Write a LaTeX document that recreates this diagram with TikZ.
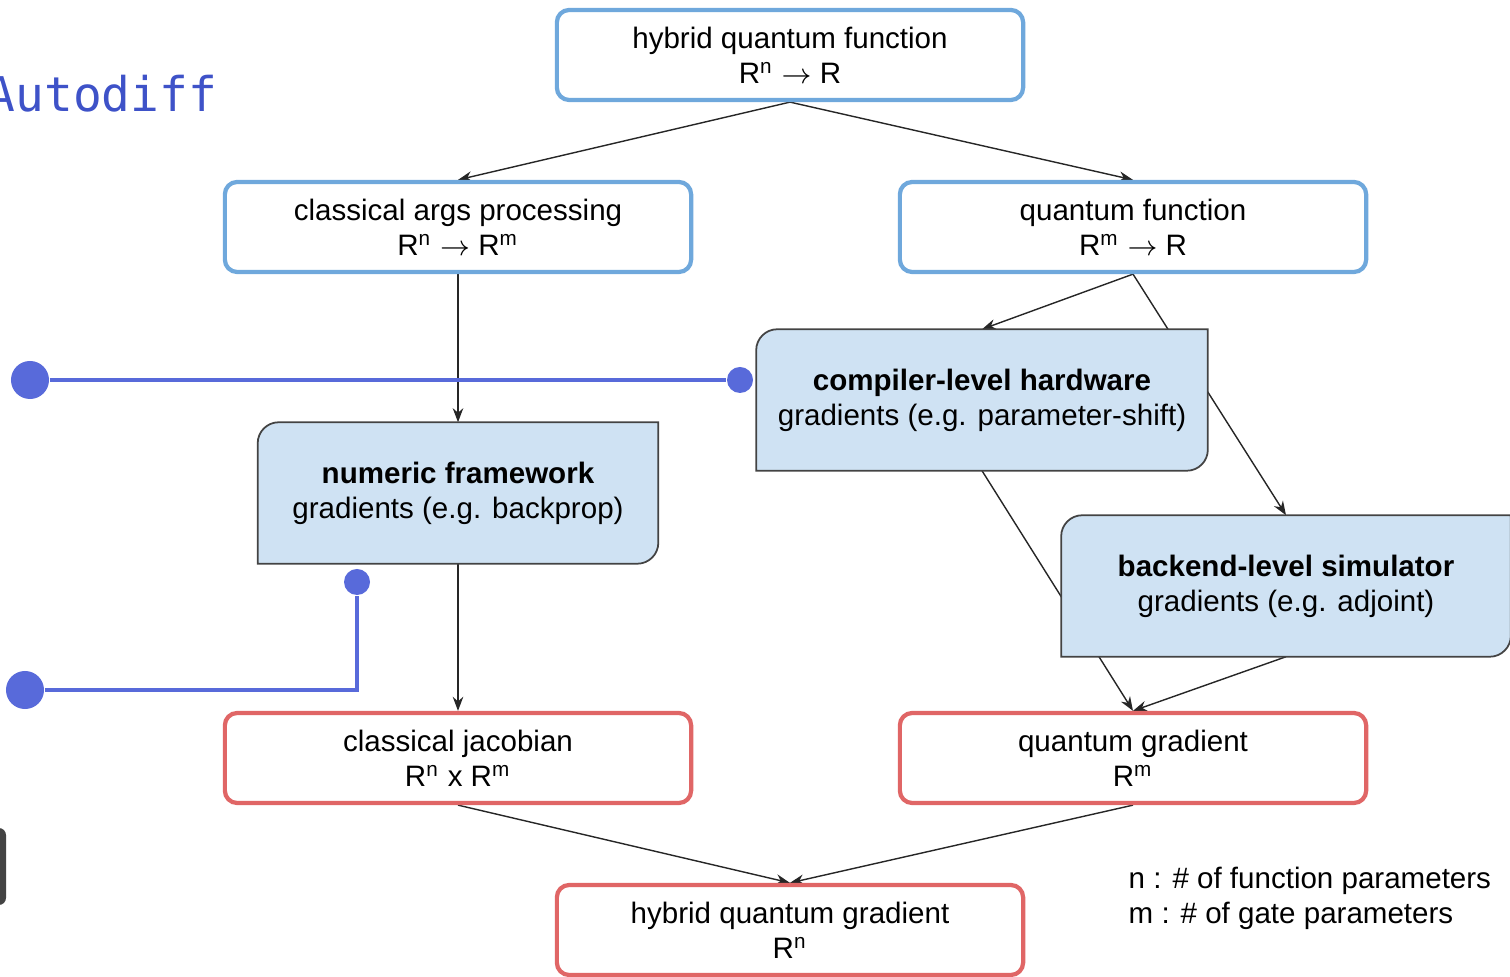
\documentclass[tikz,border=0pt]{standalone}
\usepackage{fontspec}
\setmainfont{Liberation Sans}
\newfontfamily\codefont{DejaVu Sans Mono}
\usetikzlibrary{arrows.meta}

\pgfdeclarelayer{background}
\pgfdeclarelayer{middle}
\pgfsetlayers{background,middle,main}

\definecolor{funcedge}{HTML}{6FA8DC}
\definecolor{gradedge}{HTML}{E06666}
\definecolor{methodfill}{HTML}{CFE2F3}
\definecolor{methodedge}{HTML}{434343}
\definecolor{linkblue}{RGB}{88,106,218}
\definecolor{titleblue}{RGB}{62,82,200}

\tikzset{
	box/.style={align=center, minimum width=4.66cm, minimum height=0.9cm, inner sep=0pt, font=\fontsize{8.4}{10}\selectfont},
	funcbox/.style={box, draw=funcedge, line width=1.2pt, rounded corners=3.5pt, fill=white},
	gradbox/.style={box, draw=gradedge, line width=1.2pt, rounded corners=3.5pt, fill=white},
	methodbox/.style={box, minimum height=1.4cm},
	methodshape/.style={fill=methodfill, draw=methodedge, line width=0.5pt},
	flow/.style={-{Stealth[length=4pt,width=3pt]}, line width=0.4pt, draw=black!85},
	link/.style={draw=linkblue, line width=1.4pt},
	bigdot/.style={circle, fill=linkblue, inner sep=0pt, minimum size=0.38cm},
	smalldot/.style={circle, fill=linkblue, inner sep=0pt, minimum size=0.26cm}
}

% filled box with two rounded corners (top left, bottom right)
\newcommand{\cornercut}[1]{%
	\path[methodshape] (#1.south west) -- ([yshift=-6pt]#1.north west)
		to[out=90,in=180] ([xshift=6pt]#1.north west) -- (#1.north east)
		-- ([yshift=6pt]#1.south east) to[out=-90,in=0] ([xshift=-6pt]#1.south east) -- cycle;}

\begin{document}
\begin{tikzpicture}[x=0.01cm, y=0.01cm]
	\useasboundingbox (0,0) rectangle (1510,-977);

	\node[anchor=base west, inner sep=0pt, text=titleblue, font=\codefont\fontsize{13.6}{16}\selectfont] (title) at (-14,-112) {Autodiff};

	% functions
	\node[funcbox] (hqf) at (790,-55) {hybrid quantum function\\R\textsuperscript{n} $\rightarrow$ R};
	\node[funcbox] (cap) at (458,-227) {classical args processing\\R\textsuperscript{n} $\rightarrow$ R\textsuperscript{m}};
	\node[funcbox] (qf) at (1133,-227) {quantum function\\R\textsuperscript{m} $\rightarrow$ R};

	% gradient methods
	\node[methodbox, minimum width=4.5cm] (hw) at (982,-400) {\textbf{compiler-level hardware}\\gradients (e.g. parameter-shift)};
	\node[methodbox, minimum width=3.99cm] (nf) at (458,-493) {\textbf{numeric framework}\\gradients (e.g. backprop)};
	\node[methodbox, minimum width=4.48cm] (sim) at (1286,-586) {\textbf{backend-level simulator}\\gradients (e.g. adjoint)};

	% results
	\node[gradbox] (cj) at (458,-758) {classical jacobian\\R\textsuperscript{n} x R\textsuperscript{m}};
	\node[gradbox] (qg) at (1133,-758) {quantum gradient\\R\textsuperscript{m}};
	\node[gradbox] (hqg) at (790,-930) {hybrid quantum gradient\\R\textsuperscript{n}};

	\node[anchor=west, align=left, inner sep=0pt, font=\fontsize{8.4}{10}\selectfont] (notes) at (1128,-898) {n : \# of function parameters\\m : \# of gate parameters};

	\begin{pgfonlayer}{middle}
		\cornercut{hw}
		\cornercut{nf}
		\cornercut{sim}
	\end{pgfonlayer}

	\begin{pgfonlayer}{background}
		\draw[flow] (hqf.south) -- (cap.north);
		\draw[flow] (hqf.south) -- (qf.north);
		\draw[flow] (cap.south) -- (nf.north);
		\draw[flow] (qf.south) -- (hw.north);
		\draw[flow] (qf.south) -- (sim.north);
		\draw[flow] (nf.south) -- (cj.north);
		\draw[flow] (hw.south) -- (qg.north);
		\draw[flow] (sim.south) -- (qg.north);
		\draw[flow] (cj.south) -- (hqg.north);
		\draw[flow] (qg.south) -- (hqg.north);
	\end{pgfonlayer}

	% links
	\node[bigdot] (hwend) at (30,-380) {};
	\node[smalldot] (hwtip) at (740,-380) {};
	\node[bigdot] (nfend) at (25,-690) {};
	\node[smalldot] (nftip) at (357,-582) {};
	\draw[link] (hwend) -- (hwtip);
	\draw[link] (nfend) -| (nftip);

	\fill[methodedge, rounded corners=2pt] (-10,-828) rectangle (6,-905);
\end{tikzpicture}
\end{document}
